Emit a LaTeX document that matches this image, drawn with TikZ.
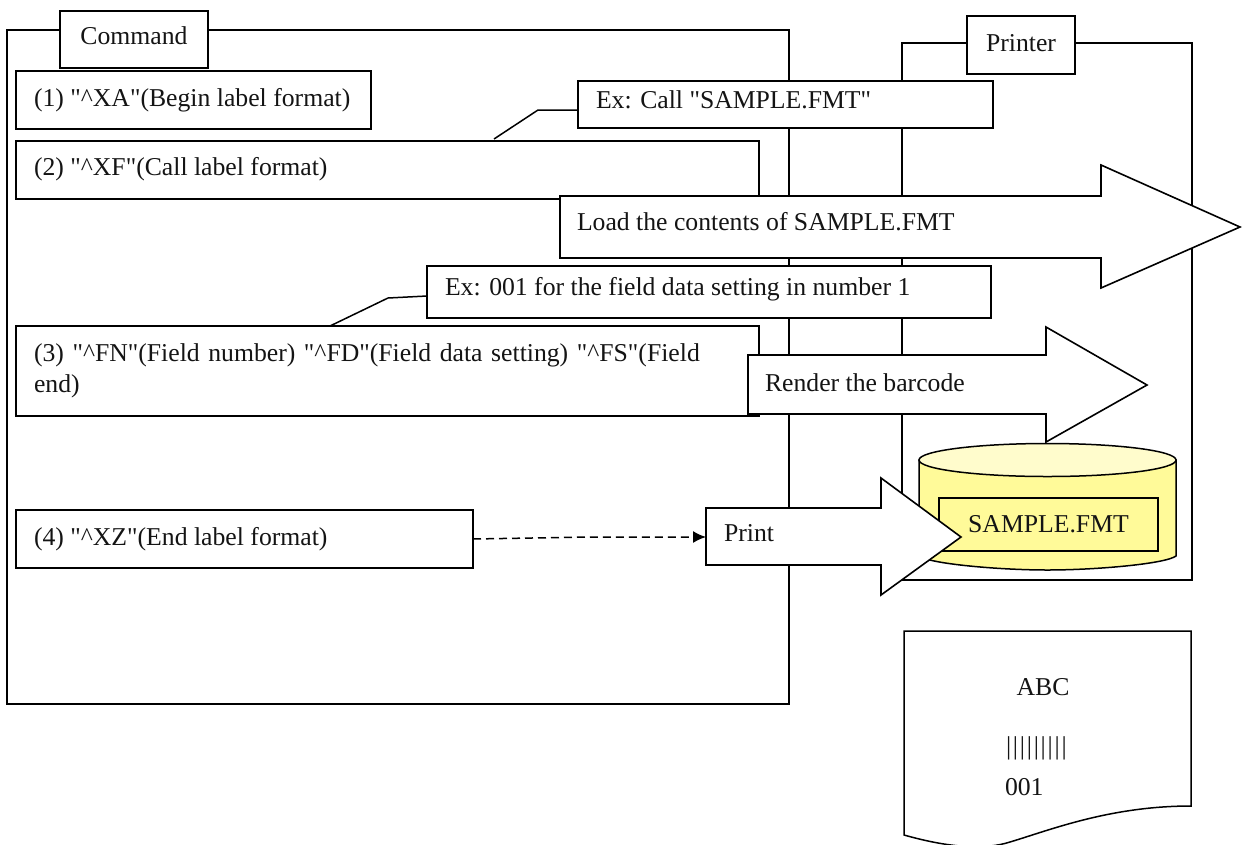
\documentclass[tikz,border=0pt]{standalone}
\usepackage{fontspec}
\setmainfont{Liberation Serif}[Ligatures=TeXOff]
\usetikzlibrary{arrows.meta,positioning}
\tikzset{
  every node/.style={font=\fontsize{25.7}{31}\selectfont, text=black!92},
  frame/.style={draw=black, line width=1.5pt, fill=white},
  boxn/.style={draw=black, line width=1.5pt, fill=white, anchor=north west, inner sep=0pt, outer sep=0pt},
  txt/.style={anchor=west, inner sep=0pt, outer sep=0pt},
  conn/.style={draw=black, line width=1.5pt},
  bigarrow/.style={draw=black, line width=1.6pt, fill=white, line join=miter},
}
\newcommand{\bx}[8]{% name, x1, y1, x2, y2, text inset, text, yshift
  \pgfmathsetmacro{\bw}{#4-#2}\pgfmathsetmacro{\bh}{#5-#3}
  \node[boxn, minimum width=\bw pt, minimum height=\bh pt] (#1) at (#2,#3) {};
  \node[txt] (#1t) at ([xshift=#6pt,yshift=#8pt]#1.west) {#7};
}
\newcommand{\barglyphs}{\foreach \i in {1,...,9}{|\kern1.8pt}}
\begin{document}
\begin{tikzpicture}[x=1pt,y=-1pt]
\useasboundingbox (0,0) rectangle (1244,844);
\clip (0,0) rectangle (1244,844);
% frames
\draw[frame] (7,30) rectangle (789,704);
\draw[frame] (902,43) rectangle (1192,580);
\node[boxn, minimum width=148pt, minimum height=57pt] (cmd) at (60,11) {};
\node[inner sep=0pt] (cmdt) at ([yshift=3.5pt]cmd.center) {Command};
\node[boxn, minimum width=108pt, minimum height=58pt] (prn) at (967,16) {};
\node[inner sep=0pt] (prnt) at ([yshift=2pt]prn.center) {Printer};
% command boxes
\bx{b1}{16}{71}{371}{129}{18}{(1) "\^{}XA"(Begin label format)}{0}
\bx{b2}{16}{141}{759}{199}{18}{(2) "\^{}XF"(Call label format)}{1}
\node[boxn, minimum width=743pt, minimum height=90pt] (b3) at (16,326) {};
\node[txt, text width=712pt, align=left] (b3t) at ([xshift=18pt]b3.west) {(3) "\^{}FN"(Field number) "\^{}FD"(Field data setting) "\^{}FS"(Field end)};
\bx{b4}{16}{510}{473}{568}{18}{(4) "\^{}XZ"(End label format)}{0}
% callouts
\bx{e1}{578}{81}{993}{128}{18}{Ex: Call "SAMPLE.FMT"}{4.5}
\coordinate (c1) at (494,139);
\draw[conn] (c1) -- (538,110) -- (e1.west |- 0,110);
\bx{e2}{427}{266}{991}{318}{18}{Ex: 001 for the field data setting in number 1}{3}
\coordinate (c2) at (330,326);
\draw[conn] (c2) -- (388,298) -- (e2.west |- 0,296);
% cylinder
\path[draw=black, line width=1.5pt, fill=yellow!40!white!100] (919,460) -- (919,556)
  .. controls (930,564) and (1000,570) .. (1047.5,570)
  .. controls (1095,570) and (1165,564) .. (1176,556) -- (1176,460) -- cycle;
\path[draw=black, line width=1.5pt, fill=yellow!20!white] (1047.5,460) ellipse [x radius=128.5pt, y radius=16.5pt];
\node[boxn, minimum width=219pt, minimum height=53pt, fill=yellow!40!white] (db) at (939,498) {};
\node[inner sep=0pt] (dbt) at (db.center) {SAMPLE.FMT};
% arrows
\draw[bigarrow] (560,196) coordinate (la) -- (1101,196) -- (1101,165) -- (1240,227) -- (1101,288) -- (1101,258) -- (560,258) -- cycle;
\node[txt] (lat) at (577,222) {Load the contents of SAMPLE.FMT};
\draw[bigarrow] (748,355) -- (1046,355) -- (1046,327) -- (1147,385) -- (1046,442) -- (1046,414) -- (748,414) -- cycle;
\node[txt] (rat) at (765,383) {Render the barcode};
\draw[bigarrow] (706,508) coordinate (pa) -- (881,508) -- (881,478) -- (961,537) -- (881,595) -- (881,565) -- (706,565) -- cycle;
\node[txt] (pat) at (724,533) {Print};
\coordinate (pin) at (706,537);
\coordinate (b4out) at (473,539);
\draw[line width=1.5pt, dashed, dash pattern=on 8pt off 5pt, -{Latex[length=13pt,width=12pt]}] (b4out) -- (590,537) -- (pin);
% paper
\draw[frame] (904,631) -- (1191,631) -- (1191,806)
  .. controls (1110,806) and (1050,830) .. (1010,842)
  .. controls (985,850) and (950,848) .. (904,835) -- cycle;
\node[inner sep=0pt] (abc) at (1043,687) {ABC};
\node[txt] (bars) at (1006,748) {\barglyphs};
\node[txt] (num) at (1005,787) {001};
\end{tikzpicture}
\end{document}
